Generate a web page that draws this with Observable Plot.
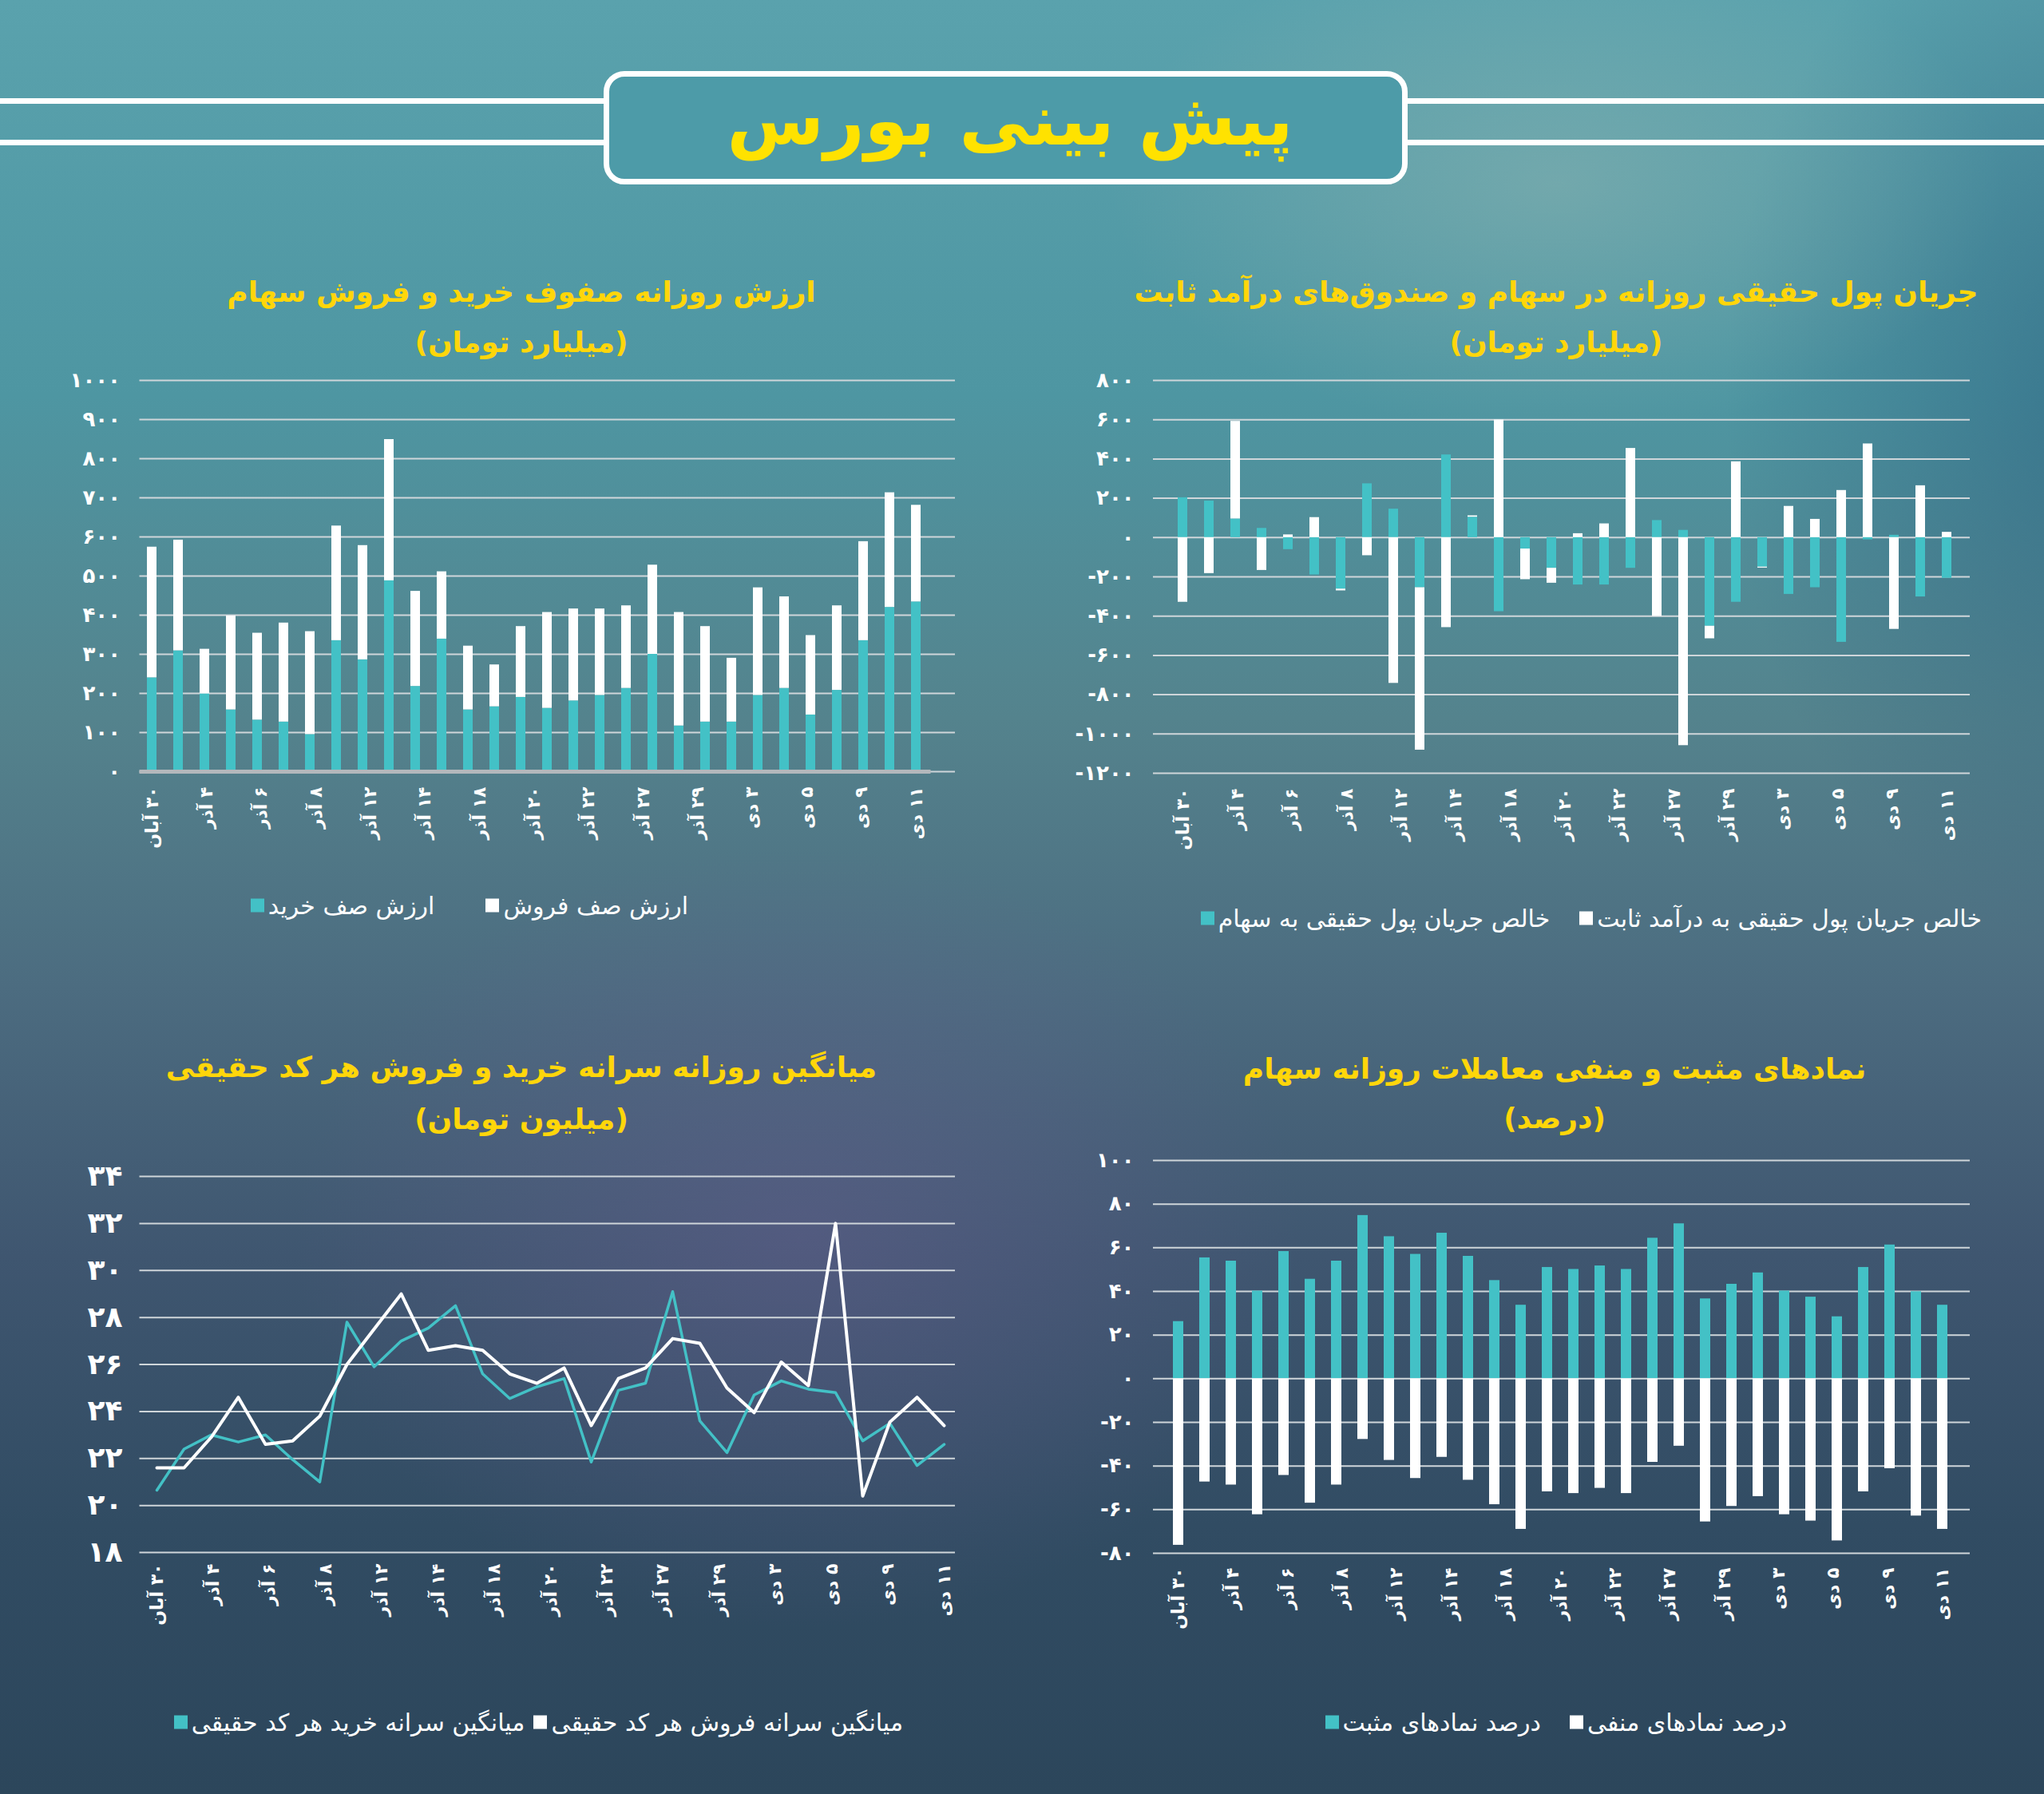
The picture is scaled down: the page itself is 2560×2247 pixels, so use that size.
<!DOCTYPE html>
<html><head><meta charset="utf-8">
<script src="https://cdn.jsdelivr.net/npm/d3@7"></script>
<script src="https://cdn.jsdelivr.net/npm/@observablehq/plot@0.6"></script>
<style>
html,body{margin:0;padding:0;}
body{width:2560px;height:2247px;position:relative;overflow:hidden;font-family:"DejaVu Sans",sans-serif;
background:
 radial-gradient(ellipse 900px 700px at 1000px 1550px, rgba(105,95,145,0.45), rgba(105,95,145,0) 70%),
 radial-gradient(ellipse 800px 450px at 1950px 230px, rgba(170,190,180,0.35), rgba(170,190,180,0) 70%),
 radial-gradient(ellipse 700px 1000px at 2650px 500px, rgba(35,85,120,0.5), rgba(35,85,120,0) 70%),
 linear-gradient(180deg,#5aa2ad 0%,#4e96a2 22%,#54838d 40%,#4c6c80 55%,#3f5670 70%,#314c63 85%,#2c465b 100%);}
.hline{position:absolute;height:7px;background:#fff;}
.box{position:absolute;left:756px;top:89px;width:993px;height:128px;border:7px solid #fff;border-radius:26px;background:#4d9ba8;}
.main{position:absolute;left:1265px;top:150px;transform:translate(-50%,-50%);color:#FFE200;font-weight:bold;font-size:88px;white-space:nowrap;direction:rtl;}
.title{position:absolute;color:#FFD60A;font-weight:bold;font-size:36px;transform:translate(-50%,-50%);white-space:nowrap;direction:rtl;}
.legend{position:absolute;display:flex;flex-direction:row;direction:rtl;align-items:center;color:#fff;font-size:30px;white-space:nowrap;transform:translateY(-50%);}
.item{display:flex;flex-direction:row;direction:rtl;align-items:center;gap:5px;}
.sw{width:17px;height:17px;display:inline-block;}
.chart{position:absolute;}
</style></head>
<body>
<div class="hline" style="left:0;top:123px;width:760px"></div>
<div class="hline" style="left:0;top:175px;width:760px"></div>
<div class="hline" style="left:1760px;top:123px;width:800px"></div>
<div class="hline" style="left:1760px;top:175px;width:800px"></div>
<div class="box"></div>
<div class="main">پیش بینی بورس</div>
<div id="root"></div>
<script>
// ---------- data ----------
const tickLabels = ["۳۰ آبان","۴ آذر","۶ آذر","۸ آذر","۱۲ آذر","۱۴ آذر","۱۸ آذر","۲۰ آذر","۲۲ آذر","۲۷ آذر","۲۹ آذر","۳ دی","۵ دی","۹ دی","۱۱ دی"];

// ارزش صف خرید / فروش (میلیارد تومان)
const buyQueue  = [240,309,199,158,132,127,95,335,286,488,218,339,158,166,190,162,181,195,213,300,117,127,127,195,213,145,208,335,420,434];
const sellQueue = [334,283,114,240,222,253,263,293,292,361,243,172,163,107,181,245,235,221,211,228,290,244,163,275,234,203,216,253,293,247];

// خالص جریان پول حقیقی (میلیارد تومان)
const stockFlow = [203,186,95,47,-61,-190,-262,274,145,-255,421,104,-377,-58,-156,-241,-241,-156,87,37,-451,-329,-150,-289,-255,-533,-11,12,-302,-207];
const fixedFlow = [-329,-183,497,-167,14,102,-9,-92,-742,-827,-458,7,599,-156,-76,20,70,454,-401,-1059,-64,386,-5,159,93,240,477,-467,264,27];

// میانگین سرانه (میلیون تومان)
const buyPerCode  = [20.65,22.4,23.0,22.7,23.0,21.95,21.0,27.8,25.9,27.0,27.55,28.5,25.6,24.55,25.05,25.4,21.85,24.9,25.2,29.1,23.6,22.25,24.7,25.3,24.95,24.8,22.75,23.5,21.7,22.6];
const sellPerCode = [21.6,21.6,22.9,24.6,22.6,22.75,23.8,26.0,27.5,29.0,26.6,26.8,26.6,25.6,25.2,25.85,23.4,25.4,25.85,27.1,26.9,25.0,23.95,26.1,25.1,32.0,20.4,23.55,24.6,23.4];

// درصد نمادهای مثبت / منفی
const posPct = [26.2,55.4,53.9,40.2,58.3,45.6,53.9,74.8,65.1,57.0,66.7,56.1,45.0,33.7,51.0,50.1,51.7,50.1,64.4,71.0,36.6,43.3,48.5,40.2,37.4,28.4,51.0,61.3,39.9,33.7];
const negPct = [-76.3,-47.3,-48.7,-62.3,-44.3,-57.0,-48.7,-27.8,-37.4,-45.7,-36.0,-46.5,-57.7,-69.0,-51.8,-52.6,-50.2,-52.6,-38.3,-30.9,-65.6,-58.5,-54.0,-62.3,-65.2,-74.3,-51.8,-41.2,-62.9,-69.0];

const titles = [
  ["ارزش روزانه صفوف خرید و فروش سهام","(میلیارد تومان)"],
  ["جریان پول حقیقی روزانه در سهام و صندوق‌های درآمد ثابت","(میلیارد تومان)"],
  ["میانگین روزانه سرانه خرید و فروش هر کد حقیقی","(میلیون تومان)"],
  ["نمادهای مثبت و منفی معاملات روزانه سهام","(درصد)"]
];
const legends = [
  ["ارزش صف فروش","ارزش صف خرید"],
  ["خالص جریان پول حقیقی به درآمد ثابت","خالص جریان پول حقیقی به سهام"],
  ["میانگین سرانه فروش هر کد حقیقی","میانگین سرانه خرید هر کد حقیقی"],
  ["درصد نمادهای منفی","درصد نمادهای مثبت"]
];

// ---------- helpers ----------
const TEAL = "#43c1c6", WHITE = "#ffffff", GRID = "#cfd6da";
const days = d3.range(30);
const fa = v => String(v).replace(/\d/g, c => "۰۱۲۳۴۵۶۷۸۹"[+c]);
const root = document.getElementById("root");
const style = {background:"transparent", color:"#fff", fontFamily:"'DejaVu Sans', sans-serif", fontWeight:"bold", overflow:"visible"};

function place(node, left, top) {
  const d = document.createElement("div");
  d.className = "chart"; d.style.left = left + "px"; d.style.top = top + "px";
  d.appendChild(node); root.appendChild(d);
}
function addTitle(lines, cx, y1, y2) {
  [[lines[0], y1], [lines[1], y2]].forEach(([t, y]) => {
    const d = document.createElement("div");
    d.className = "title"; d.textContent = t;
    d.style.left = cx + "px"; d.style.top = y + "px";
    document.body.appendChild(d);
  });
}
function addLegend(labels, colors, right, cy, gap) {
  const L = document.createElement("div");
  L.className = "legend"; L.style.right = (2560 - right) + "px"; L.style.top = cy + "px"; L.style.gap = gap + "px";
  labels.forEach((t, k) => {
    const it = document.createElement("div"); it.className = "item";
    const s = document.createElement("span"); s.textContent = t;
    const sw = document.createElement("span"); sw.className = "sw"; sw.style.background = colors[k];
    it.appendChild(s); it.appendChild(sw); L.appendChild(it);
  });
  document.body.appendChild(L);
}
// Date labels: 15 labels spread evenly from the first to the last category
function placeChart(opts, left, top, pad) {
  const chart = Plot.plot(opts);
  place(chart, left, top);
  const sx = chart.scale("x");
  const half = (sx.bandwidth || 0) / 2;
  const c0 = sx.apply(0) + half, c1 = sx.apply(days.length - 1) + half;
  const n = tickLabels.length;
  const pos = d3.range(n).map(k => k * (days.length - 1) / (n - 1));
  const axis = Plot.plot({
    width: opts.width, height: opts.height, marginTop: opts.marginTop, marginBottom: opts.marginBottom,
    marginLeft: 0, marginRight: 0, style,
    x: {type: "linear", domain: [0, days.length - 1], range: [c0, c1]},
    marks: [Plot.axisX({ticks: pos, tickSize: 0, tickPadding: pad, tickRotate: -90,
      tickFormat: d => "\u200F" + tickLabels[Math.round(d * (n - 1) / (days.length - 1))], fontSize: 22, label: null})]
  });
  place(axis, left, top);
}

// ---------- chart 1: queues ----------
const q = [...days.map(i => ({i, s: "buy", v: buyQueue[i]})), ...days.map(i => ({i, s: "sell", v: sellQueue[i]}))];
placeChart({
  width: 1160, height: 620, marginLeft: 112.5, marginRight: 54.5, marginTop: 16, marginBottom: 114, style,
  x: {type: "band", domain: days, paddingInner: 0.63, paddingOuter: 0.315, axis: null},
  y: {domain: [0, 1000]},
  color: {domain: ["buy", "sell"], range: [TEAL, WHITE]},
  marks: [
    Plot.ruleY(d3.range(100, 1001, 100), {stroke: GRID, strokeWidth: 2, insetLeft: 2, insetRight: -30.5}),
    Plot.barY(q, {x: "i", y: "v", fill: "s"}),
    Plot.ruleY([0], {stroke: GRID, strokeWidth: 2, insetLeft: 2, insetRight: -30.5}),
    Plot.ruleY([0], {stroke: "#b3b8bc", strokeWidth: 5, insetLeft: 2}),
    Plot.axisY({ticks: d3.range(0, 1001, 100), tickSize: 0, tickPadding: 22, tickFormat: fa, fontSize: 26, label: null})
  ]
}, 60, 460, 19);

// ---------- chart 2: money flow ----------
const f = [...days.map(i => ({i, s: "stock", v: stockFlow[i]})), ...days.map(i => ({i, s: "fixed", v: fixedFlow[i]}))];
placeChart({
  width: 1180, height: 620, marginLeft: 116.2, marginRight: 58.2, marginTop: 16, marginBottom: 112, style,
  x: {type: "band", domain: days, paddingInner: 0.65, paddingOuter: 0.325, axis: null},
  y: {domain: [-1200, 800]},
  color: {domain: ["stock", "fixed"], range: [TEAL, WHITE]},
  marks: [
    Plot.ruleY(d3.range(-1200, 801, 200), {stroke: GRID, strokeWidth: 2, insetLeft: -12.2, insetRight: -5.2}),
    Plot.barY(f, {x: "i", y: "v", fill: "s"}),
    Plot.axisY({ticks: d3.range(-1200, 801, 200), tickSize: 0, tickPadding: 36, tickFormat: fa, fontSize: 26, label: null})
  ]
}, 1340, 460, 19);

// ---------- chart 3: per-code lines ----------
placeChart({
  width: 1160, height: 640, marginLeft: 119, marginRight: 21, marginTop: 33, marginBottom: 136, style,
  x: {type: "point", domain: days, padding: 0.5, axis: null},
  y: {domain: [18, 34]},
  marks: [
    Plot.ruleY(d3.range(18, 35, 2), {stroke: GRID, strokeWidth: 2, insetLeft: -4.5, insetRight: 3}),
    Plot.line(days, {x: i => i, y: i => buyPerCode[i], stroke: TEAL, strokeWidth: 3.5}),
    Plot.line(days, {x: i => i, y: i => sellPerCode[i], stroke: WHITE, strokeWidth: 4}),
    Plot.axisY({ticks: d3.range(18, 35, 2), tickSize: 0, tickPadding: 26, tickFormat: fa, fontSize: 36, label: null})
  ]
}, 60, 1440, 14);

// ---------- chart 4: positive / negative ----------
placeChart({
  width: 1180, height: 640, marginLeft: 105, marginRight: 57, marginTop: 33, marginBottom: 115, style,
  x: {type: "band", domain: days, paddingInner: 0.62, paddingOuter: 0.31, axis: null},
  y: {domain: [-80, 100]},
  marks: [
    Plot.ruleY(d3.range(-80, 101, 20), {stroke: GRID, strokeWidth: 2, insetLeft: -1, insetRight: -4}),
    Plot.barY(days, {x: i => i, y: i => posPct[i], fill: TEAL}),
    Plot.barY(days, {x: i => i, y: i => negPct[i], fill: WHITE}),
    Plot.axisY({ticks: d3.range(-80, 101, 20), tickSize: 0, tickPadding: 25, tickFormat: fa, fontSize: 26, label: null})
  ]
}, 1340, 1420, 18);

// ---------- titles & legends ----------
addTitle(titles[0], 653, 365, 428);
addTitle(titles[1], 1949, 365, 428);
addTitle(titles[2], 653, 1336, 1401);
addTitle(titles[3], 1947, 1338, 1400);
addLegend(legends[0], [WHITE, TEAL], 862, 1134, 64);
addLegend(legends[1], [WHITE, TEAL], 2482, 1150, 37);
addLegend(legends[2], [WHITE, TEAL], 1131, 2157, 11);
addLegend(legends[3], [WHITE, TEAL], 2238, 2157, 36);
</script>
</body></html>
